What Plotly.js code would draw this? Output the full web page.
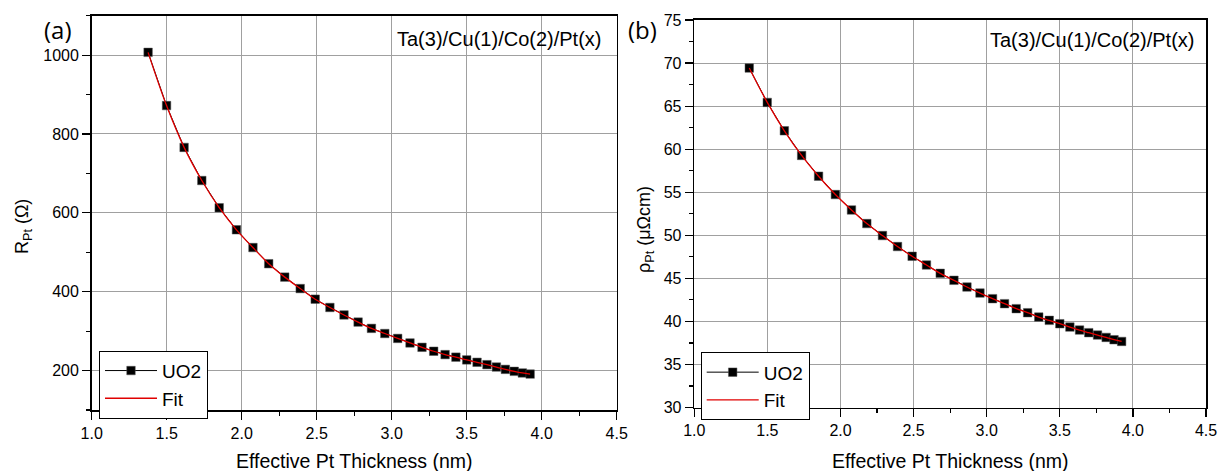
<!DOCTYPE html>
<html>
<head>
<meta charset="utf-8">
<script src="https://cdn.plot.ly/plotly-3.0.1.min.js"></script>
<style>html,body{margin:0;padding:0;background:#fff;}#chart{width:1227px;height:471px;}</style>
</head>
<body>
<div id="chart"></div>
<script>
// Effective Pt thickness (nm)
const thickness = [1.376,1.499,1.616,1.734,1.850,1.965,2.075,2.180,2.287,2.390,2.490,2.588,2.682,2.776,2.865,2.954,3.040,3.122,3.202,3.280,3.356,3.428,3.500,3.569,3.635,3.698,3.758,3.817,3.871,3.923];
// (a) R_Pt (Ohm)
const resistance = [1007,872,766,682,613,557,512,471,437,408,381,360,341,323,307,294,281.5,270,259,249,240.5,234,227,221,215,209,203,198,194,191];
const resistanceFit = [1007,872,766,682,613,557,512,471,437,408,381,360,341,323,307,294,281.5,270,259,249,240.5,234,227,221,215,209,203,198,194,191];
// (b) rho_Pt (uOhm cm)
const resistivity = [69.42,65.43,62.13,59.27,56.86,54.73,52.94,51.36,49.97,48.69,47.56,46.55,45.58,44.77,43.99,43.29,42.64,42.06,41.48,41.01,40.50,40.12,39.73,39.34,38.99,38.69,38.41,38.14,37.87,37.67];
const resistivityFit = [69.42,65.43,62.13,59.27,56.86,54.73,52.94,51.36,49.97,48.69,47.56,46.55,45.58,44.77,43.99,43.29,42.64,42.06,41.48,41.01,40.50,40.12,39.73,39.34,38.99,38.69,38.41,38.14,37.87,37.67];
const seriesNames = ["UO2", "Fit"];
const sampleLabel = "Ta(3)/Cu(1)/Co(2)/Pt(x)";

const W = 1227, H = 471;
const FONT = "Liberation Sans, Arial, sans-serif";
const px = v => v / W, py = v => 1 - v / H;

const dataMarker = {symbol: "square", size: 8.5, color: "#000", line: {width: 0.5, color: "#555"}};
const traces = [
  {x: thickness, y: resistance, name: seriesNames[0], mode: "lines+markers", xaxis: "x", yaxis: "y",
   line: {color: "#000", width: 1}, marker: dataMarker, legend: "legend"},
  {x: thickness, y: resistanceFit, name: seriesNames[1], mode: "lines", xaxis: "x", yaxis: "y",
   line: {color: "#e00000", width: 1.3, shape: "spline"}, legend: "legend"},
  {x: thickness, y: resistivity, name: seriesNames[0], mode: "lines+markers", xaxis: "x2", yaxis: "y2",
   line: {color: "#000", width: 1}, marker: dataMarker, legend: "legend2"},
  {x: thickness, y: resistivityFit, name: seriesNames[1], mode: "lines", xaxis: "x2", yaxis: "y2",
   line: {color: "#e00000", width: 1.3, shape: "spline"}, legend: "legend2"}
];

const grid = "#a0a0a0";
function xAx(domain, anchor) {
  return {domain: domain, anchor: anchor, range: [1, 4.5], tick0: 1, dtick: 0.5, tickformat: ".1f",
    ticks: "outside", ticklen: 8, tickwidth: 1.2, tickcolor: "#000",
    minor: {dtick: 0.25, ticks: "outside", ticklen: 4, tickcolor: "#000", tickwidth: 1.2, showgrid: false},
    showgrid: true, gridcolor: grid, gridwidth: 1, zeroline: false,
    showline: true, linecolor: "#000", linewidth: 1.6, mirror: true,
    tickfont: {family: FONT, size: 16, color: "#000"}};
}
function yAx(domain, anchor, range, dtick, minorD) {
  return {domain: domain, anchor: anchor, range: range, tick0: 0, dtick: dtick,
    ticks: "outside", ticklen: 8, tickwidth: 1.2, tickcolor: "#000",
    minor: {dtick: minorD, ticks: "outside", ticklen: 4, tickcolor: "#000", tickwidth: 1.2, showgrid: false},
    showgrid: true, gridcolor: grid, gridwidth: 1, zeroline: false,
    showline: true, linecolor: "#000", linewidth: 1.6, mirror: true,
    tickfont: {family: FONT, size: 16, color: "#000"}};
}
function xTop(over, anchor, range) {
  return {overlaying: over, anchor: anchor, side: "top", range: range, tick0: 1, dtick: 0.5,
    ticks: "inside", ticklen: 8, tickwidth: 1.2, tickcolor: "#000",
    minor: {dtick: 0.25, ticks: "inside", ticklen: 4, tickcolor: "#000", tickwidth: 1.2},
    showticklabels: false, showgrid: false, zeroline: false, showline: false};
}
function yRight(over, anchor, range, dtick, minorD) {
  return {overlaying: over, anchor: anchor, side: "right", range: range, tick0: 0, dtick: dtick,
    ticks: "inside", ticklen: 8, tickwidth: 1.2, tickcolor: "#000",
    minor: {dtick: minorD, ticks: "inside", ticklen: 4, tickcolor: "#000", tickwidth: 1.2},
    showticklabels: false, showgrid: false, zeroline: false, showline: false};
}

const xd1 = [px(91.7), px(616.7)], yd1 = [1 - 410 / H, 1 - 15.7 / H];
const xd2 = [px(694.3), px(1206)], yd2 = [1 - 407.5 / H, 1 - 20 / H];

const legendStyle = {font: {family: FONT, size: 19, color: "#000"}, bgcolor: "#fff",
  bordercolor: "#000", borderwidth: 1, xanchor: "left", yanchor: "top", tracegroupgap: 0, itemwidth: 52};

function ann(text, x, y, size, extra) {
  return Object.assign({text: text, x: px(x), y: py(y), xref: "paper", yref: "paper",
    xanchor: "center", yanchor: "middle", showarrow: false,
    font: {family: FONT, size: size, color: "#000"}}, extra || {});
}

const layout = {
  width: W, height: H, margin: {l: 0, r: 0, t: 0, b: 0},
  paper_bgcolor: "#fff", plot_bgcolor: "#fff", showlegend: true,
  xaxis: xAx(xd1, "y"), yaxis: yAx(yd1, "x", [100, 1100], 200, 100),
  xaxis2: xAx(xd2, "y2"), yaxis2: yAx(yd2, "x2", [30, 75], 5, 2.5),
  xaxis3: xTop("x", "y", [1, 4.5]), yaxis3: yRight("y", "x", [100, 1100], 200, 100),
  xaxis4: xTop("x2", "y2", [1, 4.5]), yaxis4: yRight("y2", "x2", [30, 75], 5, 2.5),
  legend: Object.assign({x: px(99), y: py(350.7)}, legendStyle),
  legend2: Object.assign({x: px(700.7), y: py(352.3)}, legendStyle),
  annotations: [
    ann("(a)", 58, 30, 24, {font: {family: "Open Sans, sans-serif", size: 24, color: "#000"}}),
    ann("(b)", 642, 30, 24, {font: {family: "Open Sans, sans-serif", size: 24, color: "#000"}}),
    ann(sampleLabel, 603, 39, 20, {xanchor: "right"}),
    ann(sampleLabel, 1196, 40, 20, {xanchor: "right"}),
    ann("R<sub>Pt</sub> (Ω)", 23, 227, 18, {textangle: -90}),
    ann("ρ<sub>Pt</sub> (μΩcm)", 645, 230, 18, {textangle: -90}),
    ann("Effective Pt Thickness (nm)", 354, 461, 19.5),
    ann("Effective Pt Thickness (nm)", 950.5, 461, 19.5)
  ]
};

Plotly.newPlot("chart", traces, layout, {staticPlot: true, displayModeBar: false});
</script>
</body>
</html>
